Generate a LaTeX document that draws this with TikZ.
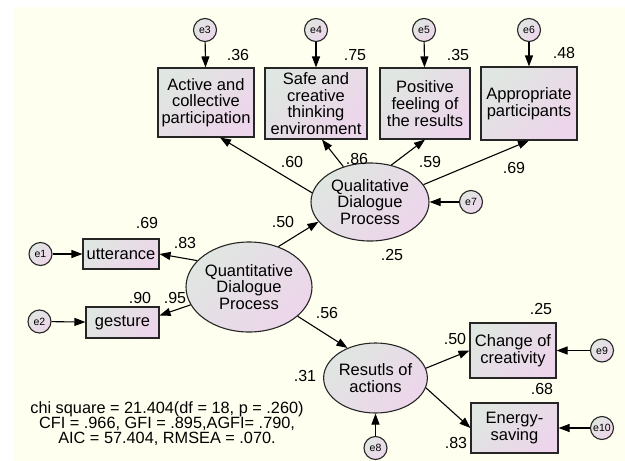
\documentclass[tikz,border=0pt]{standalone}
\usepackage{fontspec}
\setmainfont{Liberation Sans}
\usepackage{tikz}
\usetikzlibrary{arrows.meta,shapes.geometric}
\definecolor{paper}{HTML}{FFFFF0}
\definecolor{gradA}{HTML}{E0E6E1}
\definecolor{gradB}{HTML}{EDD5EB}
\tikzset{
    filled/.style={draw=black!85,line width=1.1pt,left color=gradA,right color=gradB,shading angle=45,inner sep=0pt},
    obsvar/.style={filled,rectangle,align=center,font=\fontsize{16.5}{16.7}\selectfont},
    latent/.style={filled,ellipse,align=center,font=\fontsize{16.5}{16.7}\selectfont},
    errvar/.style={filled,circle,minimum size=23,font=\fontsize{10.5}{11}\selectfont},
    coef/.style={inner sep=0pt,font=\fontsize{16}{16}\selectfont},
    directed/.style={line width=1.1pt,arrows={-Triangle[length=11pt,width=8pt]}},
    }
\begin{document}
\begin{tikzpicture}[x=1pt,y=-1pt]
	\useasboundingbox (0,0) rectangle (625,461);
	\fill[paper] (12.5,7) rectangle (625,461);

	% observed variables
	\node[obsvar,minimum width=96,minimum height=69] (act) at (206,102.5) {Active and\\collective\\participation};
	\node[obsvar,minimum width=102,minimum height=71] (safe) at (316,103.5) {Safe and\\creative\\thinking\\environment};
	\node[obsvar,minimum width=90,minimum height=71] (pos) at (425,103.5) {Positive\\feeling of\\the results};
	\node[obsvar,minimum width=96,minimum height=73] (appr) at (529,103.5) {Appropriate\\participants};
	\node[obsvar,minimum width=76,minimum height=30] (utt) at (121,254) {utterance};
	\node[obsvar,minimum width=73,minimum height=31] (gest) at (122.5,322.5) {gesture};
	\node[obsvar,minimum width=86,minimum height=55] (chg) at (513,350.5) {Change of\\creativity};
	\node[obsvar,minimum width=87,minimum height=50] (enrg) at (514.5,428) {Energy-\\saving};

	% latent variables
	\node[latent,minimum width=126,minimum height=90] (quant) at (249,287) {Quantitative\\Dialogue\\Process};
	\node[latent,minimum width=118,minimum height=78] (qual) at (370,202) {Qualitative\\Dialogue\\Process};
	\node[latent,minimum width=103,minimum height=70] (res) at (375.5,378) {Resutls of\\actions};

	% errors
	\node[errvar] (e1) at (40.5,254) {e1};
	\node[errvar] (e2) at (39.5,321.5) {e2};
	\node[errvar] (e3) at (205,30) {e3};
	\node[errvar] (e4) at (316,30) {e4};
	\node[errvar] (e5) at (424,30) {e5};
	\node[errvar] (e6) at (529,30) {e6};
	\node[errvar] (e7) at (471,202) {e7};
	\node[errvar] (e8) at (375.5,448) {e8};
	\node[errvar] (e9) at (602,350.5) {e9};
	\node[errvar] (e10) at (602,428) {e10};

	\draw[directed] (e1) -- (utt);
	\draw[directed] (e2) -- (gest);
	\draw[directed] (e3) -- (act);
	\draw[directed] (e4) -- (safe);
	\draw[directed] (e5) -- (pos);
	\draw[directed] (e6) -- (appr);
	\draw[directed] (e7) -- (qual);
	\draw[directed] (e8) -- (res);
	\draw[directed] (e9) -- (chg);
	\draw[directed] (e10) -- (enrg);

	\draw[directed] (qual.171) -- ([xshift=14pt]act.south);
	\draw[directed] (qual.127) -- ([xshift=6pt]safe.south);
	\draw[directed] (qual.60) -- (pos.south);
	\draw[directed] (qual.18) -- (appr.south);
	\draw[directed] (quant.54) -- (qual.201);
	\draw[directed] (quant.153) -- (utt.east);
	\draw[directed] (quant.197) -- ([yshift=7pt]gest.east);
	\draw[directed] (quant.329) -- (res.133);
	\draw[directed] (res.11) -- (chg.west);
	\draw[directed] (res.349) -- (enrg.west);

	% estimates
	\node[coef] (r36) at (238,55) {.36};
	\node[coef] (r75) at (355,55) {.75};
	\node[coef] (r35) at (458,55) {.35};
	\node[coef] (r48) at (564,53) {.48};
	\node[coef] (w60) at (292,162) {.60};
	\node[coef] (w86) at (357,159) {.86};
	\node[coef] (w59) at (430,162) {.59};
	\node[coef] (w69) at (514,168) {.69};
	\node[coef] (r69) at (147,223) {.69};
	\node[coef] (w50) at (283,222) {.50};
	\node[coef] (w83) at (185,243) {.83};
	\node[coef] (r90) at (140,298) {.90};
	\node[coef] (w95) at (175,298) {.95};
	\node[coef] (r25) at (392,255) {.25};
	\node[coef] (w56) at (327,313) {.56};
	\node[coef] (r31) at (305,376) {.31};
	\node[coef] (r25b) at (541,309) {.25};
	\node[coef] (w50b) at (455,339) {.50};
	\node[coef] (r68) at (542,389) {.68};
	\node[coef] (w83b) at (456,443) {.83};

	\node[coef,align=center,font=\fontsize{16.3}{15}\selectfont] (fit) at (167,424)
		{chi square = 21.404(df = 18, p = .260)\\CFI = .966, GFI = .895,AGFI= .790,\\AIC = 57.404, RMSEA = .070.};
\end{tikzpicture}
\end{document}
